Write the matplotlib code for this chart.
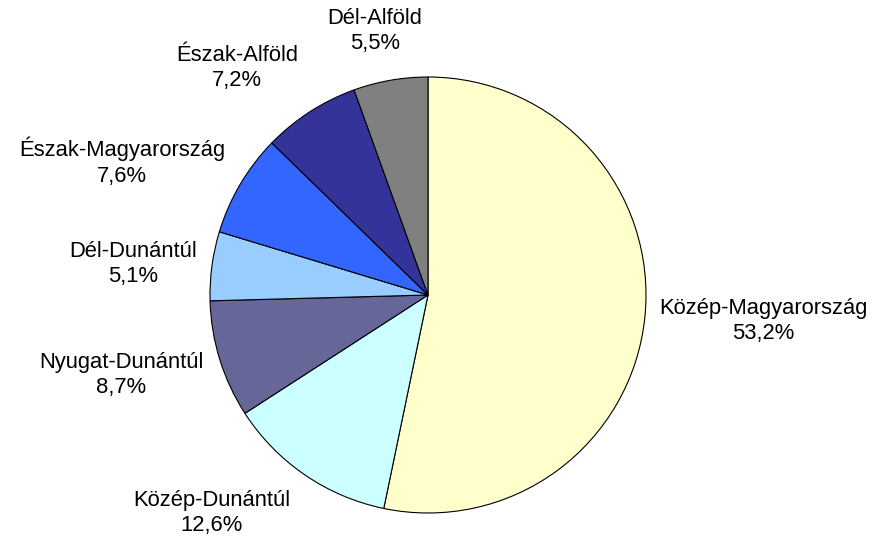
import numpy as np
import matplotlib.pyplot as plt

# regional shares (%), clockwise from 12 o'clock
regions = ['Közép-Magyarország', 'Közép-Dunántúl', 'Nyugat-Dunántúl', 'Dél-Dunántúl',
           'Észak-Magyarország', 'Észak-Alföld', 'Dél-Alföld']
shares = [53.2, 12.6, 8.7, 5.1, 7.6, 7.2, 5.5]
pct_labels = ['53,2%', '12,6%', '8,7%', '5,1%', '7,6%', '7,2%', '5,5%']

colors = ['#FFFFCC', '#CCFFFF', '#666699', '#99CCFF', '#3366FF', '#333399', '#808080']

# label centres in pie-radius units (as Excel placed them)
label_pos = [(1.537, -0.119), (-0.991, -1.0), (-1.408, -0.367), (-1.353, 0.142),
             (-1.404, 0.610), (-0.876, 1.041), (-0.243, 1.211)]

plt.rcParams['font.family'] = ['Liberation Sans', 'DejaVu Sans']

fig = plt.figure(figsize=(8.78, 5.43), dpi=100)
ax = fig.add_axes([210 / 878, 30 / 543, 436 / 878, 436 / 543])

wedges, _ = ax.pie(shares, colors=colors, startangle=90, counterclock=False,
                   radius=1, wedgeprops=dict(edgecolor='black', linewidth=0.8))

for name, pct, (x, y) in zip(regions, pct_labels, label_pos):
    ax.text(x, y, name + '\n' + pct, ha='center', va='center', fontsize=15.8,
            linespacing=1.3)

ax.set_xlim(-1, 1)
ax.set_ylim(-1, 1)
ax.set_aspect('equal')
ax.axis('off')

fig.savefig('out.png', dpi=100)
